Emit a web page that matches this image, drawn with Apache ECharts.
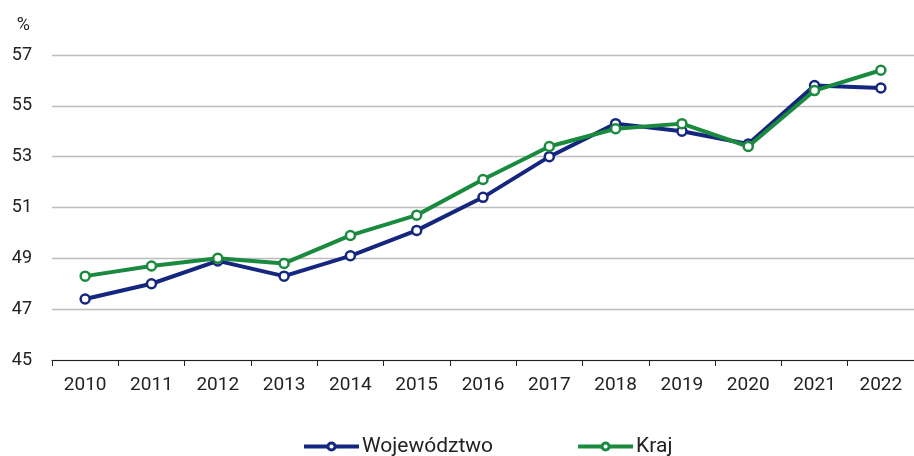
<!DOCTYPE html>
<html>
<head>
<meta charset="utf-8">
<script src="https://cdn.jsdelivr.net/npm/echarts@6/dist/echarts.min.js"></script>
<style>html,body{margin:0;padding:0;background:#fff;}#c{width:914px;height:456px;}</style>
</head>
<body>
<div id="c"></div>
<script>
const categories = ['2010','2011','2012','2013','2014','2015','2016','2017','2018','2019','2020','2021','2022'];
const wojewodztwo = [47.4, 48.0, 48.9, 48.3, 49.1, 50.1, 51.4, 53.0, 54.3, 54.0, 53.5, 55.8, 55.7];
const kraj = [48.3, 48.7, 49.0, 48.8, 49.9, 50.7, 52.1, 53.4, 54.1, 54.3, 53.4, 55.6, 56.4];
const seriesNames = ['Województwo', 'Kraj'];
const colors = ['#15267f', '#1a8a3f'];

const FONT = 'Roboto';
const chart = echarts.init(document.getElementById('c'));
function mkSeries(name, data, color) {
  return {
    name: name, type: 'line', data: data,
    symbol: 'circle', symbolSize: 9,
    lineStyle: { width: 4, color: color },
    itemStyle: { color: '#fff', borderColor: color, borderWidth: 2.5 },
    emphasis: { disabled: true },
    z: name === 'Kraj' ? 3 : 2
  };
}
chart.setOption({
  animation: false,
  color: colors,
  grid: { left: 52, top: 55, width: 867, height: 305, containLabel: false },
  legend: {
    left: 302, top: 436, padding: 0,
    itemWidth: 55, itemHeight: 9, itemGap: 83,
    lineStyle: { width: 4 },
    itemStyle: { borderWidth: 3 },
    textStyle: { fontFamily: FONT, fontSize: 21, color: '#222', padding: [0, 0, 0, -2] },
    data: seriesNames
  },
  xAxis: {
    type: 'category', data: categories, boundaryGap: true,
    axisLine: { lineStyle: { color: '#222', width: 1 } },
    axisTick: { show: true, length: 6, lineStyle: { color: '#222' } },
    axisLabel: { fontFamily: FONT, fontSize: 19, color: '#222', margin: 16 }
  },
  yAxis: {
    type: 'value', min: 45, max: 57, interval: 2,
    name: '%', nameLocation: 'end', nameGap: 21,
    nameTextStyle: { fontFamily: FONT, fontSize: 18, color: '#222', align: 'right', padding: [0, 22, 0, 0] },
    axisLine: { show: false }, axisTick: { show: false },
    axisLabel: { fontFamily: FONT, fontSize: 18, color: '#222', margin: 20 },
    splitLine: { lineStyle: { color: '#bdbdbd', width: 1.3 } }
  },
  series: [mkSeries(seriesNames[0], wojewodztwo, colors[0]), mkSeries(seriesNames[1], kraj, colors[1])]
});
</script>
</body>
</html>
